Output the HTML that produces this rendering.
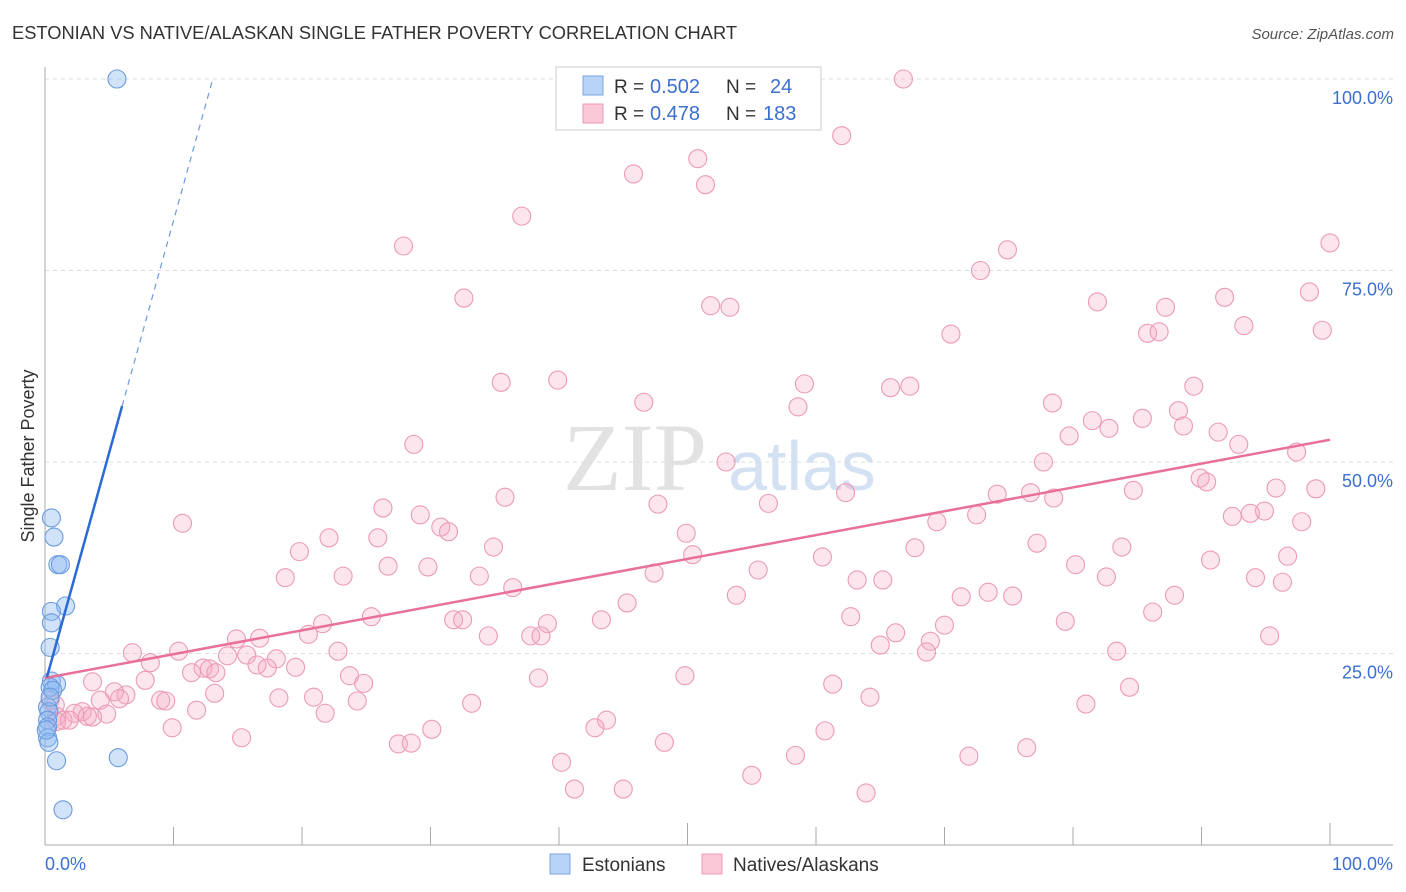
<!DOCTYPE html>
<html><head><meta charset="utf-8"><style>
body{margin:0;background:#fff;}
svg{display:block;font-family:"Liberation Sans",sans-serif;}
</style></head><body>
<svg id="chart" width="1406" height="892">
<text x="12" y="39" font-size="18.3" fill="#333">ESTONIAN VS NATIVE/ALASKAN SINGLE FATHER POVERTY CORRELATION CHART</text>
<text x="1394" y="39" font-size="15" fill="#555" font-style="italic" text-anchor="end">Source: ZipAtlas.com</text>
<text x="0" y="0" transform="translate(34,456) rotate(-90)" font-size="18" fill="#333" text-anchor="middle">Single Father Poverty</text>
<g>
<text x="635" y="490" font-size="96" fill="#e2e2e2" font-family="Liberation Serif,serif" text-anchor="middle">ZIP</text>
<text x="802" y="490" font-size="70" fill="#d3e1f3" text-anchor="middle">atlas</text>
</g>
<g id="grid"></g>
<g id="axes"></g>
<g id="pts"></g>
<g id="lines"></g>
<g>
<rect x="556" y="67" width="265" height="63" fill="#fff" stroke="#ccc"/>
<rect x="583" y="76" width="20" height="19" fill="#b7d3f6" stroke="#7aa6e0"/>
<rect x="583" y="104" width="20" height="19" fill="#fbc8d8" stroke="#ec9ab5"/>
<text y="93" font-size="19" fill="#333"><tspan x="614">R =</tspan><tspan x="650" fill="#3b6fd0" font-size="20">0.502</tspan><tspan x="726">N =</tspan><tspan x="770" fill="#3b6fd0" font-size="20">24</tspan></text>
<text y="120" font-size="19" fill="#333"><tspan x="614">R =</tspan><tspan x="650" fill="#3b6fd0" font-size="20">0.478</tspan><tspan x="726">N =</tspan><tspan x="763" fill="#3b6fd0" font-size="20">183</tspan></text>
</g>
<g>
<rect x="550" y="854" width="20" height="20" fill="#b7d3f6" stroke="#7aa6e0"/>
<text x="582" y="871" font-size="19" fill="#333">Estonians</text>
<rect x="702" y="854" width="20" height="20" fill="#fbc8d8" stroke="#ec9ab5"/>
<text x="733" y="871" font-size="19" fill="#333">Natives/Alaskans</text>
</g>
</svg>
<script>
const blueX=[5.6,0.5,0.7,1.0,1.2,1.6,0.5,0.5,0.4,0.5,0.9,0.4,0.6,0.2,0.3,0.2,0.2,0.2,0.3,0.9,5.7,1.4,0.1,0.4];
const blueY=[100,42.7,40.2,36.6,36.6,31.2,30.5,29.0,25.8,21.4,21.0,20.6,20.2,18.0,17.4,16.3,15.4,14.0,13.4,11.0,11.4,4.6,15.0,19.3];
const pinkX=[66.8,62.0,50.8,45.8,51.4,37.1,27.9,100,74.9,72.8,32.6,98.4,91.8,81.9,87.2,51.8,53.3,93.3,99.4,85.8,86.7,70.5,35.5,39.9,59.1,65.8,67.3,89.4,58.6,46.6,78.4,85.4,88.2,81.5,88.6,79.7,82.8,91.3,28.7,92.9,97.4,53.0,77.7,89.9,90.4,98.9,95.8,84.7,62.3,74.1,76.7,78.5,35.8,47.7,56.3,94.9,92.4,93.8,97.8,72.5,10.7,69.4,26.3,29.2,30.8,31.4,49.9,22.1,25.9,77.2,19.8,34.9,67.7,83.8,50.4,60.5,96.7,90.7,26.7,29.8,80.2,47.4,55.5,23.2,33.8,82.6,63.2,65.2,94.2,96.3,18.7,36.4,53.8,71.3,73.4,75.3,87.9,45.3,86.2,25.4,62.7,43.3,21.6,31.8,32.5,39.1,70.0,79.4,37.8,38.6,34.5,20.5,66.2,14.9,16.7,65.0,68.9,95.3,10.4,6.8,8.2,22.8,15.7,18.0,14.2,12.3,12.8,19.5,16.5,11.4,13.3,17.3,83.4,68.6,23.7,24.8,38.4,49.8,3.7,7.8,61.3,84.4,13.2,6.3,5.4,5.8,4.3,9.0,18.2,20.9,24.3,33.2,64.2,81.0,9.4,11.8,2.9,2.3,3.3,4.8,3.7,0.9,1.4,21.8,0.9,1.9,9.9,30.1,43.7,42.8,60.7,15.3,27.5,28.5,48.2,76.4,58.4,71.9,40.2,55.0,41.2,45.0,63.9,0.4,0.8];
const pinkY=[100,92.6,89.6,87.6,86.2,82.1,78.2,78.6,77.7,75.0,71.4,72.2,71.5,70.9,70.2,70.4,70.2,67.8,67.2,66.8,67.0,66.7,60.4,60.7,60.2,59.7,59.9,59.9,57.2,57.8,57.7,55.7,56.7,55.4,54.7,53.4,54.4,53.9,52.3,52.3,51.3,50.0,50.0,47.9,47.4,46.5,46.6,46.3,46.0,45.8,46.0,45.3,45.4,44.5,44.6,43.6,42.9,43.3,42.2,43.1,42.0,42.2,44.0,43.1,41.5,40.9,40.7,40.1,40.1,39.4,38.3,38.9,38.8,38.9,37.9,37.6,37.7,37.2,36.4,36.3,36.6,35.5,35.9,35.1,35.1,35.0,34.6,34.6,34.9,34.3,34.9,33.6,32.6,32.4,33.0,32.5,32.6,31.6,30.4,29.8,29.8,29.4,28.9,29.4,29.4,28.9,28.7,29.2,27.3,27.3,27.3,27.5,27.7,26.9,27.0,26.1,26.6,27.3,25.3,25.1,23.8,25.3,24.8,24.3,24.7,23.1,23.0,23.2,23.5,22.5,22.5,23.1,25.3,25.2,22.1,21.1,21.8,22.1,21.3,21.5,21.0,20.6,19.8,19.6,20.0,19.1,18.9,18.9,19.2,19.3,18.8,18.5,19.3,18.4,18.8,17.6,17.4,17.2,16.8,17.1,16.7,16.8,16.3,17.2,16.1,16.3,15.3,15.1,16.3,15.3,14.9,14.0,13.2,13.3,13.4,12.7,11.7,11.6,10.8,9.1,7.3,7.3,6.8,18.9,18.3];
const yTicks=[25,50,75,100];
const yTickLabels=["25.0%","50.0%","75.0%","100.0%"];
const xTicks=[0,10,20,30,40,50,60,70,80,90,100];
const blueTrend=[21.0,6.05]; // intercept, slope
const pinkTrend=[21.8,0.311];

const X0=45,X1=1330,Y0=845,Y1=79;
const sx=v=>X0+(X1-X0)*v/100;
const sy=v=>Y0-(Y0-Y1)*v/100;
const NS="http://www.w3.org/2000/svg";
function mk(p,t,a){const e=document.createElementNS(NS,t);for(const k in a)e.setAttribute(k,a[k]);p.appendChild(e);return e;}
const grid=document.getElementById('grid'),axes=document.getElementById('axes'),pts=document.getElementById('pts'),lines=document.getElementById('lines');
yTicks.forEach((t,i)=>{
 const g=mk(grid,'line',{x1:X0,x2:1393,y1:sy(t),y2:sy(t),stroke:'#ddd','stroke-dasharray':'4,4'});
 
 
 const l=mk(axes,'text',{x:1393,y:sy(t)+25,'font-size':18,fill:'#3b6fd0','text-anchor':'end'});
 l.textContent=yTickLabels[i];
 
 
});
let a=mk(axes,'line',{x1:X0,x2:X0,y1:67,y2:Y0,stroke:'#aaa'});


a=mk(axes,'line',{x1:X0,x2:1393,y1:Y0,y2:Y0,stroke:'#aaa'});


xTicks.forEach((t,i)=>{if(i==0)return;
 const k=mk(axes,'line',{x1:sx(t),x2:sx(t),y1:Y0,y2:i==5||i==10?Y0-22:Y0-18,stroke:'#aaa'});
 
 
});
let xl=mk(axes,'text',{x:45,y:870,'font-size':18,fill:'#3b6fd0'});xl.textContent='0.0%';


xl=mk(axes,'text',{x:1393,y:870,'font-size':18,fill:'#3b6fd0','text-anchor':'end'});xl.textContent='100.0%';


pinkX.forEach((x,i)=>{
 const c=mk(pts,'circle',{cx:sx(x),cy:sy(pinkY[i]),r:9,fill:'rgba(246,170,196,0.3)',stroke:'#ec9ab5','stroke-width':1.1});
 
 
});
blueX.forEach((x,i)=>{
 const c=mk(pts,'circle',{cx:sx(x),cy:sy(blueY[i]),r:9,fill:'rgba(140,185,240,0.4)',stroke:'#6a9ae0','stroke-width':1.1});
 
 
});
let ln=mk(lines,'line',{x1:sx(0),y1:sy(pinkTrend[0]),x2:sx(100),y2:sy(pinkTrend[0]+100*pinkTrend[1]),stroke:'#e8709a','stroke-width':2.5});


const bx=6, bxe=(100-blueTrend[0])/blueTrend[1];
ln=mk(lines,'line',{x1:sx(0.15),y1:sy(blueTrend[0]+0.15*blueTrend[1]),x2:sx(bx),y2:sy(blueTrend[0]+bx*blueTrend[1]),stroke:'#2a6ad6','stroke-width':2.5});


ln=mk(lines,'line',{x1:sx(bx),y1:sy(blueTrend[0]+bx*blueTrend[1]),x2:sx(bxe),y2:sy(100),stroke:'#6a9ae0','stroke-width':1.2,'stroke-dasharray':'6,5'});


</script>
</body></html>
